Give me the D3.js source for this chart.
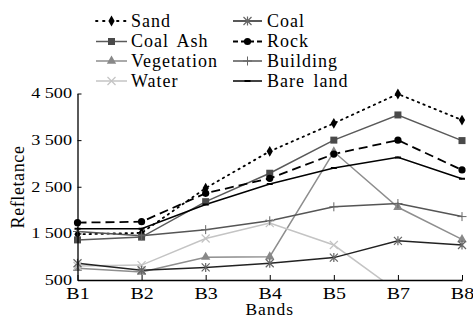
<!DOCTYPE html>
<html>
<head>
<meta charset="utf-8">
<script src="https://cdn.jsdelivr.net/npm/d3@7"></script>
<style>
  body { margin: 0; background: #fff; }
  svg text { font-family: "Liberation Serif", "DejaVu Serif", serif; fill: #000; }
</style>
</head>
<body>
<svg id="chart" width="473" height="324"></svg>
<script>
// spectral reflectance per band for each land cover
var bands = ["B1", "B2", "B3", "B4", "B5", "B7", "B8"];
var yTicks = [500, 1500, 2500, 3500, 4500];

var sand       = [1480, 1510, 2470, 3260, 3860, 4490, 3930];
var coalAsh    = [1360, 1420, 2180, 2790, 3500, 4040, 3490];
var vegetation = [750, 670, 990, 1000, 3250, 2060, 1370];
var water      = [800, 820, 1390, 1720, 1250, 250, 300];
var coal       = [860, 710, 770, 860, 980, 1340, 1250];
var rock       = [1730, 1750, 2360, 2680, 3200, 3500, 2860];
var building   = [1540, 1450, 1580, 1770, 2070, 2140, 1860];
var bareLand   = [1600, 1600, 2120, 2560, 2900, 3130, 2670];

var series = [
  {name: "Sand",       values: sand,       color: "#000", dash: "1.5,4.5", marker: "diamond", mcolor: "#000", col: 0, row: 0},
  {name: "Coal Ash",   values: coalAsh,    color: "#5a5a5a", dash: null, marker: "square", mcolor: "#4a4a4a", col: 0, row: 1},
  {name: "Vegetation", values: vegetation, color: "#8e8e8e", dash: null, marker: "triangle", mcolor: "#888", col: 0, row: 2},
  {name: "Water",      values: water,      color: "#c4c4c4", dash: null, marker: "x", mcolor: "#c4c4c4", col: 0, row: 3},
  {name: "Coal",       values: coal,       color: "#222", dash: null, marker: "star", mcolor: "#666", col: 1, row: 0},
  {name: "Rock",       values: rock,       color: "#000", dash: "9,5", marker: "circle", mcolor: "#000", col: 1, row: 1},
  {name: "Building",   values: building,   color: "#555", dash: null, marker: "plus", mcolor: "#666", col: 1, row: 2},
  {name: "Bare land",  values: bareLand,   color: "#000", dash: null, marker: "dash", mcolor: "#000", col: 1, row: 3}
];

var svg = d3.select("#chart");

var margin = {top: 93.5, left: 77.5};
var plotWidth = 384.5;
var plotHeight = 186.5;

var x = d3.scalePoint()
  .domain(bands)
  .range([0, plotWidth]);

var y = d3.scaleLinear()
  .domain([500, 4500])
  .range([plotHeight, 0]);

var fmt = d3.formatLocale({decimal: ".", thousands: " ", grouping: [3], currency: ["", ""]}).format(",");

var plot = svg.append("g")
  .attr("transform", "translate(" + margin.left + "," + margin.top + ")");

// clip so that the water line disappears below the x axis
svg.append("clipPath").attr("id", "clip")
  .append("rect")
  .attr("x", -10).attr("y", -20)
  .attr("width", plotWidth + 20).attr("height", plotHeight + 20);

var lineGen = d3.line()
  .x(function(d, i) { return x(bands[i]); })
  .y(function(d) { return y(d); });

function drawMarker(g, type, color) {
  if (type == "diamond") {
    g.append("path").attr("d", d3.symbol().type(d3.symbolDiamond).size(34)()).attr("fill", color);
  } else if (type == "square") {
    g.append("rect").attr("x", -3.5).attr("y", -3.5).attr("width", 7).attr("height", 7).attr("fill", color);
  } else if (type == "triangle") {
    g.append("path").attr("d", d3.symbol().type(d3.symbolTriangle).size(38)()).attr("fill", color);
  } else if (type == "circle") {
    g.append("circle").attr("r", 3.6).attr("fill", color);
  } else if (type == "x") {
    g.append("path").attr("d", "M-4,-4L4,4M-4,4L4,-4").attr("stroke", color).attr("stroke-width", 1.2);
  } else if (type == "star") {
    g.append("path").attr("d", "M-4,-4L4,4M-4,4L4,-4M0,-4.5L0,4.5").attr("stroke", color).attr("stroke-width", 1.2);
  } else if (type == "plus") {
    g.append("path").attr("d", "M-4.5,0L4.5,0M0,-4.5L0,4.5").attr("stroke", color).attr("stroke-width", 1);
  } else if (type == "dash") {
    g.append("path").attr("d", "M-3,0L3,0").attr("stroke", color).attr("stroke-width", 2);
  }
}

var layer = plot.append("g").attr("clip-path", "url(#clip)");

series.forEach(function(s) {
  layer.append("path")
    .attr("d", lineGen(s.values))
    .attr("fill", "none")
    .attr("stroke", s.color)
    .attr("stroke-width", s.dash ? 1.8 : 1.5)
    .attr("stroke-dasharray", s.dash)
    .attr("stroke-linecap", s.marker == "diamond" ? "round" : "butt");
});

series.forEach(function(s) {
  s.values.forEach(function(v, i) {
    var m = layer.append("g")
      .attr("transform", "translate(" + x(bands[i]) + "," + y(v) + ")");
    drawMarker(m, s.marker, s.mcolor);
  });
});

// axes, ticks pointing inward
var yAxis = d3.axisLeft(y).tickValues(yTicks).tickFormat(fmt)
  .tickSizeInner(-4).tickSizeOuter(0).tickPadding(4.2);
var yGroup = plot.append("g").call(yAxis);
yGroup.select(".domain").attr("stroke", "#000").attr("stroke-width", 1.3);
yGroup.selectAll(".tick line").attr("stroke", "#000");
yGroup.selectAll("text")
  .attr("font-size", 14)
  .attr("font-family", null)
  .attr("transform", "scale(1.3,1)");

var xAxis = d3.axisBottom(x).tickSizeInner(-5).tickSizeOuter(0).tickPadding(0);
var xGroup = plot.append("g")
  .attr("transform", "translate(0," + plotHeight + ")")
  .call(xAxis);
xGroup.select(".domain").attr("stroke", "#000").attr("stroke-width", 1.3);
xGroup.selectAll(".tick line").attr("stroke", "#000");
xGroup.selectAll("text")
  .attr("font-size", 17.5)
  .attr("font-family", null)
  .attr("y", 19.5).attr("dy", 0)
  .attr("transform", "scale(1.14,1)");
yGroup.attr("font-family", null);
xGroup.attr("font-family", null);

svg.append("text")
  .attr("x", margin.left + plotWidth / 2)
  .attr("y", 314.5)
  .attr("text-anchor", "middle")
  .attr("font-size", 17.5)
  .attr("letter-spacing", 1)
  .text("Bands");

svg.append("text")
  .attr("transform", "translate(24,187) rotate(-90)")
  .attr("text-anchor", "middle")
  .attr("font-size", 18)
  .attr("letter-spacing", 0.6)
  .text("Refletance");

// legend in two columns
var legendCols = [{x0: 96, x1: 127, tx: 131}, {x0: 233, x1: 262, tx: 267}];
var legendRows = [21, 41.5, 61, 81];

series.forEach(function(s) {
  var c = legendCols[s.col];
  var ry = legendRows[s.row];
  var g = svg.append("g");
  g.append("line")
    .attr("x1", c.x0).attr("x2", c.x1)
    .attr("y1", ry).attr("y2", ry)
    .attr("stroke", s.color)
    .attr("stroke-width", s.dash ? 1.8 : 1.5)
    .attr("stroke-dasharray", s.marker == "diamond" ? "1.5,5.5" : (s.dash ? "5,3" : null))
    .attr("stroke-linecap", s.marker == "diamond" ? "round" : "butt");
  var m = g.append("g").attr("transform", "translate(" + (c.x0 + c.x1) / 2 + "," + ry + ")");
  drawMarker(m, s.marker, s.mcolor);
  g.append("text")
    .attr("x", c.tx).attr("y", ry + 5.5)
    .attr("font-size", 18)
    .attr("letter-spacing", 1)
    .attr("word-spacing", 3)
    .text(s.name);
});
</script>
</body>
</html>
